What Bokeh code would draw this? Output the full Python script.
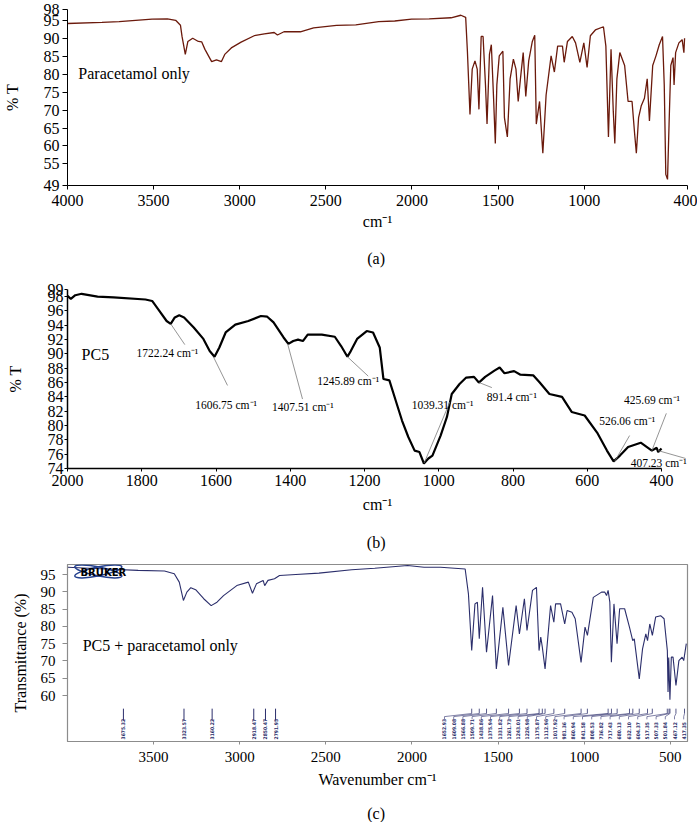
import numpy as np
from bokeh.plotting import figure
from bokeh.models import Range1d, FixedTicker
from bokeh.layouts import column
from bokeh.embed import file_html
from bokeh.resources import INLINE
from bokeh.core.properties import value

SERIF = "Liberation Serif"
W = 697

# ---------------- Panel (a): Paracetamol only ----------------
a_wn = [4000, 3800, 3700, 3509, 3420, 3372, 3344, 3335, 3316, 3301, 3273, 3240, 3221, 3202, 3163,
        3135, 3106, 3087, 3049, 2992, 2916, 2857, 2800, 2781, 2743, 2648, 2571, 2438, 2326, 2193,
        2100, 2002, 1900, 1773, 1716, 1688, 1678, 1663, 1650, 1634, 1621, 1611, 1598, 1587, 1573,
        1564, 1550, 1539, 1526, 1516, 1507, 1493, 1472, 1463, 1446, 1430, 1411, 1396, 1383, 1370,
        1354, 1339, 1322, 1301, 1287, 1278, 1259, 1240, 1221, 1192, 1173, 1154, 1126, 1116, 1097,
        1069, 1050, 1025, 1002, 983, 964, 935, 888, 874, 859, 844, 831, 822, 810, 793,
        765, 745, 722, 707, 697, 684, 669, 650, 634, 621, 602, 583, 564, 545, 535,
        526, 516, 507, 497, 484, 478, 469, 450, 431, 421, 417]
a_t = [94.1, 94.4, 94.6, 95.3, 95.4, 95.0, 93.6, 90.5, 85.5, 89.1, 90.0, 89.1, 89.0, 86.9, 83.5,
       84.0, 83.5, 85.5, 87.3, 88.9, 90.7, 91.2, 91.6, 90.9, 91.8, 91.8, 92.9, 93.6, 93.7, 94.6,
       94.8, 95.3, 95.4, 95.7, 96.4, 95.8, 86.4, 68.8, 81.4, 83.7, 81.4, 70.2, 90.5, 90.5, 77.0,
       66.1, 85.5, 88.2, 73.3, 60.7, 77.0, 85.1, 86.4, 67.9, 62.5, 78.7, 84.2, 81.4, 72.4, 78.7,
       86.0, 73.8, 83.7, 89.1, 90.8, 66.1, 72.4, 58.0, 74.2, 85.1, 80.6, 87.8, 87.8, 83.3, 89.1,
       90.5, 88.7, 83.3, 88.7, 81.9, 90.7, 92.3, 93.2, 87.8, 62.5, 86.9, 69.7, 60.7, 78.7, 86.0,
       82.4, 72.4, 72.4, 63.4, 58.0, 67.9, 71.1, 73.3, 78.7, 67.0, 82.4, 85.1, 88.2, 90.5, 77.0,
       52.1, 50.7, 66.1, 82.4, 84.6, 77.0, 86.0, 88.7, 89.6, 86.0, 90.0]
a_xticks = [4000, 3500, 3000, 2500, 2000, 1500, 1000, 400]
a_yticks = [49, 55, 60, 65, 70, 75, 80, 85, 90, 95, 98]
a_label = "Paracetamol only"
a_label_pos = (3937, 80.3)

# ---------------- Panel (b): PC5 ----------------
b_wn = [2000, 1991, 1979, 1962, 1919, 1876, 1790, 1772, 1755, 1733, 1722, 1711, 1699, 1686, 1660,
        1634, 1617, 1604, 1591, 1574, 1548, 1513, 1479, 1462, 1445, 1418, 1405, 1392, 1379, 1366,
        1353, 1315, 1280, 1263, 1246, 1237, 1220, 1194, 1177, 1159, 1149, 1133, 1116, 1099, 1082,
        1065, 1052, 1040, 1028, 1017, 995, 978, 965, 944, 926, 905, 892, 875, 849, 836,
        823, 797, 780, 745, 728, 702, 668, 642, 607, 572, 547, 529, 512, 490, 456,
        426, 413, 409, 400]
b_t = [98.1, 97.7, 98.2, 98.4, 98.0, 97.9, 97.6, 97.4, 96.2, 94.6, 94.2, 95.1, 95.4, 95.1, 93.7,
       92.1, 90.4, 89.6, 90.9, 93.0, 94.1, 94.6, 95.3, 95.2, 94.4, 92.3, 91.4, 91.8, 92.0, 91.8,
       92.7, 92.7, 92.4, 91.1, 89.6, 90.4, 92.1, 93.2, 93.0, 90.9, 86.5, 86.3, 83.5, 80.7, 78.4,
       76.5, 76.3, 74.7, 75.4, 75.8, 78.6, 81.2, 84.4, 85.8, 86.7, 86.8, 86.0, 86.8, 87.7, 88.1,
       87.3, 87.6, 87.1, 87.0, 86.0, 84.4, 84.0, 81.9, 81.4, 78.9, 76.5, 75.0, 75.8, 77.0, 77.6,
       76.5, 76.9, 76.3, 76.8]
b_xticks = [2000, 1800, 1600, 1400, 1200, 1000, 800, 600, 400]
b_yticks = [74, 76, 78, 80, 82, 84, 86, 88, 90, 92, 94, 96, 98, 99]
b_label = "PC5"
b_label_pos = (1962, 89.9)
# peak annotations: text, text anchor (left, middle), leader start, leader end
b_ann_text = ["1722.24 cm\u207b\u00b9", "1606.75 cm\u207b\u00b9", "1407.51 cm\u207b\u00b9",
              "1245.89 cm\u207b\u00b9", "1039.31 cm\u207b\u00b9", "891.4 cm\u207b\u00b9",
              "526.06 cm\u207b\u00b9", "425.69 cm\u207b\u00b9", "407.23 cm\u207b\u00b9"]
b_ann_tx = [1814, 1656, 1449, 1327, 1073, 871, 568, 501, 483]
b_ann_ty = [90.2, 82.8, 82.6, 86.2, 82.8, 84.0, 80.7, 83.6, 74.8]
b_ann_x0 = [1722, 1607, 1407, 1246, 1039, 891, 526, 426, 409]
b_ann_y0 = [94.2, 89.6, 91.4, 89.6, 74.8, 86.0, 75.0, 76.5, 76.5]
b_ann_x1 = [1684, 1569, 1367, 1190, 970, 857, 486, 387, 335]
b_ann_y1 = [91.3, 85.6, 83.7, 86.9, 83.3, 85.3, 78.6, 81.7, 75.4]

# ---------------- Panel (c): PC5 + paracetamol ----------------
c_wn = [3999, 3781, 3590, 3437, 3380, 3351, 3327, 3307, 3284, 3256, 3209, 3166, 3132, 3094, 3017,
        2950, 2926, 2903, 2864, 2855, 2836, 2798, 2769, 2674, 2540, 2350, 2216, 2025, 1930, 1834,
        1691, 1672, 1653, 1634, 1620, 1609, 1590, 1567, 1532, 1510, 1472, 1439, 1395, 1376, 1347,
        1332, 1300, 1277, 1262, 1252, 1243, 1227, 1195, 1176, 1166, 1137, 1113, 1099, 1071, 1052,
        1018, 995, 981, 947, 899, 880, 870, 861, 851, 842, 827, 809, 794, 765, 737,
        718, 709, 680, 661, 642, 632, 619, 604, 585, 556, 536, 517, 513, 509, 502,
        494, 484, 467, 450, 431, 422, 407]
c_t = [97.1, 96.6, 96.2, 96.0, 95.2, 92.8, 87.5, 89.9, 91.2, 90.6, 88.0, 86.0, 87.0, 88.9, 91.8,
       92.8, 89.6, 92.3, 93.3, 91.8, 93.3, 93.8, 94.7, 95.0, 95.4, 96.4, 96.8, 97.6, 97.1, 97.1,
       96.6, 89.4, 73.0, 86.5, 87.0, 76.4, 91.3, 72.5, 88.9, 67.7, 85.5, 68.7, 86.0, 77.8, 88.0,
       78.8, 90.4, 91.3, 73.0, 76.9, 74.0, 67.7, 86.0, 81.2, 86.5, 86.5, 80.7, 84.6, 84.1, 82.2,
       69.6, 79.8, 77.4, 88.4, 89.9, 89.9, 88.9, 90.4, 87.0, 69.6, 86.5, 75.0, 85.1, 85.1, 79.8,
       75.9, 76.4, 64.8, 73.5, 77.8, 75.9, 80.7, 77.4, 82.7, 83.1, 82.2, 73.0, 61.0, 71.0, 58.8,
       71.1, 71.1, 62.9, 70.1, 71.1, 70.1, 75.0]
c_xticks = [3500, 3000, 2500, 2000, 1500, 1000, 500]
c_yticks = [60, 65, 70, 75, 80, 85, 90, 95]
c_label = "PC5 + paracetamol only"
c_label_pos = (3912, 74.5)
c_peaks_left = [3675.32, 3323.57, 3160.22, 2918.47, 2850.47, 2791.95]
c_peaks_right = [1652.93, 1609.08, 1566.88, 1509.71, 1438.86, 1375.94, 1331.82, 1261.73, 1243.01,
                 1226.98, 1175.87, 1112.96, 1017.92, 981.36, 860.94, 841.58, 808.53, 736.82,
                 717.43, 680.13, 632.10, 604.37, 517.35, 507.33, 501.84, 467.12, 417.35]
c_label_span = (1811, 422)        # range over which right-hand peak labels are spread
c_tick_top, c_tick_bot, c_kink, c_drop, c_text_base = 56.2, 54.8, 53.9, 53.1, 47.3
c_left_tick_bot = 52.8
c_logo = (3821, 95.9)
c_logo_text_x = 3792

captions = ["(a)", "(b)", "(c)"]

NAVY = "#2b2e6b"


def base_fig(w, h, xr, yr, left, right, top, bottom):
    p = figure(width=w, height=h, x_range=Range1d(*xr), y_range=Range1d(*yr),
               output_backend="svg", toolbar_location=None,
               min_border_left=left, min_border_right=right,
               min_border_top=top, min_border_bottom=bottom)
    p.grid.visible = False
    p.outline_line_color = None
    for ax in (p.xaxis[0], p.yaxis[0]):
        ax.major_label_text_font = SERIF
        ax.axis_label_text_font = SERIF
        ax.axis_label_text_font_style = "normal"
        ax.minor_tick_line_color = None
        ax.major_tick_in = 0
        ax.axis_line_color = "black"
        ax.major_tick_line_color = "black"
        ax.major_label_text_color = "black"
        ax.axis_label_text_color = "black"
    return p


def caption_fig(text, h, ypos):
    p = figure(width=W, height=h, x_range=Range1d(0, W), y_range=Range1d(0, h),
               output_backend="svg", toolbar_location=None, x_axis_location=None,
               y_axis_location=None, min_border=0)
    p.grid.visible = False
    p.outline_line_color = None
    p.text(x=[347], y=[ypos], text=[text], text_font=value(SERIF), text_font_size="16px",
           text_align="center", text_baseline="middle", text_color="black")
    return p


# ---- figure (a)
pa = base_fig(W, 235, (4000, 400), (49, 98), 57, 10, 9, 50)
pa.line(a_wn, a_t, color="#6b1a0c", line_width=1.3)
pa.text(x=[a_label_pos[0]], y=[a_label_pos[1]], text=[a_label], text_font=value(SERIF),
        text_font_size="16px", text_align="left", text_baseline="middle", text_color="black")
pa.xaxis.ticker = FixedTicker(ticks=a_xticks)
pa.yaxis.ticker = FixedTicker(ticks=a_yticks)
pa.xaxis.axis_label = "cm\u207b\u00b9"
pa.yaxis.axis_label = "% T"
pa.xaxis.major_label_text_font_size = "16px"
pa.yaxis.major_label_text_font_size = "16px"
pa.xaxis.axis_label_text_font_size = "16px"
pa.yaxis.axis_label_text_font_size = "16px"
pa.xaxis.major_tick_out = 4
pa.xaxis.major_label_standoff = 5
pa.xaxis.axis_label_standoff = 4
pa.yaxis.major_tick_out = 5
pa.yaxis.major_label_standoff = 3
pa.yaxis.axis_label_standoff = 20

# ---- figure (b)
pb = base_fig(W, 243, (2000, 330), (74, 99), 52, 0, 14, 50)
pb.line(b_wn, b_t, color="black", line_width=2.2)
pb.segment(x0=b_ann_x0, y0=b_ann_y0, x1=b_ann_x1, y1=b_ann_y1, color="#7a7a7a", line_width=0.8)
pb.text(x=b_ann_tx, y=b_ann_ty, text=b_ann_text, text_font=value(SERIF), text_font_size="11.5px",
        text_align="left", text_baseline="middle", text_color="black")
pb.text(x=[b_label_pos[0]], y=[b_label_pos[1]], text=[b_label], text_font=value(SERIF),
        text_font_size="16px", text_align="left", text_baseline="middle", text_color="black")
pb.xaxis.ticker = FixedTicker(ticks=b_xticks)
pb.yaxis.ticker = FixedTicker(ticks=b_yticks)
pb.xaxis.bounds = (400, 2000)
pb.xaxis.axis_label = "cm\u207b\u00b9"
pb.yaxis.axis_label = "% T"
pb.xaxis.major_label_text_font_size = "16px"
pb.yaxis.major_label_text_font_size = "16px"
pb.xaxis.axis_label_text_font_size = "16px"
pb.yaxis.axis_label_text_font_size = "16px"
pb.xaxis.major_tick_out = 3
pb.xaxis.major_label_standoff = 3
pb.xaxis.axis_label_standoff = 7
pb.yaxis.major_tick_out = 3
pb.yaxis.major_label_standoff = 1
pb.yaxis.axis_label_standoff = 21
pb.xaxis.axis_line_width = 1.5
pb.yaxis.axis_line_width = 1.5

# ---- figure (c)
pc = base_fig(W, 235, (4000, 400), (46.7, 97.9), 62, 7, 6, 52)
pc.outline_line_color = "#8c8c8c"
pc.outline_line_width = 1.2
pc.line(c_wn, c_t, color=NAVY, line_width=1.1)
# peak markers, left group
pc.segment(x0=c_peaks_left, y0=[c_tick_top] * len(c_peaks_left),
           x1=c_peaks_left, y1=[c_left_tick_bot] * len(c_peaks_left), color=NAVY, line_width=1)
pc.text(x=c_peaks_left, y=[c_text_base] * len(c_peaks_left),
        text=[f"{v:.2f}" for v in c_peaks_left], angle=np.pi / 2,
        text_font=value("DejaVu Sans Condensed"), text_font_style="bold", text_font_size="5px",
        text_align="left", text_baseline="middle", text_color=NAVY)
# peak markers, right group with fanned-out leaders
lx = list(np.linspace(c_label_span[0], c_label_span[1], len(c_peaks_right)))
n = len(c_peaks_right)
pc.segment(x0=c_peaks_right, y0=[c_tick_top] * n, x1=c_peaks_right, y1=[c_tick_bot] * n,
           color=NAVY, line_width=0.8)
pc.segment(x0=c_peaks_right, y0=[c_tick_bot] * n, x1=lx, y1=[c_kink] * n, color=NAVY, line_width=0.6)
pc.segment(x0=lx, y0=[c_kink] * n, x1=lx, y1=[c_drop] * n, color=NAVY, line_width=0.6)
pc.text(x=lx, y=[c_text_base] * n, text=[f"{v:.2f}" for v in c_peaks_right], angle=np.pi / 2,
        text_font=value("DejaVu Sans Condensed"), text_font_style="bold", text_font_size="5px",
        text_align="left", text_baseline="middle", text_color=NAVY)
# Bruker logo
pc.ellipse(x=[c_logo[0]] * 2, y=[c_logo[1]] * 2, width=[48, 48], height=[9, 9], angle=[0.2, -0.2],
           width_units="screen", height_units="screen", fill_color=None, line_color="#23408e",
           line_width=1.5)
pc.text(x=[c_logo_text_x], y=[c_logo[1] - 0.3], text=["BRUKER"], text_font=value("DejaVu Sans"),
        text_font_style="bold", text_font_size="10px", text_align="center", text_baseline="middle",
        text_color="black")
pc.text(x=[c_label_pos[0]], y=[c_label_pos[1]], text=[c_label], text_font=value(SERIF),
        text_font_size="16px", text_align="left", text_baseline="middle", text_color="black")
pc.xaxis.ticker = FixedTicker(ticks=c_xticks)
pc.yaxis.ticker = FixedTicker(ticks=c_yticks)
pc.xaxis.axis_label = "Wavenumber cm\u207b\u00b9"
pc.yaxis.axis_label = "Transmittance (%)"
pc.xaxis.major_label_text_font_size = "15px"
pc.yaxis.major_label_text_font_size = "15px"
pc.xaxis.axis_label_text_font_size = "16px"
pc.yaxis.axis_label_text_font_size = "16px"
pc.xaxis.axis_line_color = "#8c8c8c"
pc.yaxis.axis_line_color = "#8c8c8c"
pc.xaxis.major_tick_line_color = "#8c8c8c"
pc.yaxis.major_tick_line_color = "#8c8c8c"
pc.xaxis.major_tick_out = 3
pc.xaxis.major_label_standoff = 7
pc.xaxis.axis_label_standoff = 6
pc.yaxis.major_tick_out = 5
pc.yaxis.major_label_standoff = 7
pc.yaxis.axis_label_standoff = 9

cap_a = caption_fig(captions[0], 40, 17)
cap_b = caption_fig(captions[1], 40, 16)
cap_c = caption_fig(captions[2], 29, 9)

layout = column(pa, cap_a, pb, cap_b, pc, cap_c, spacing=0)
open("out.html", "w").write(file_html(layout, INLINE))
